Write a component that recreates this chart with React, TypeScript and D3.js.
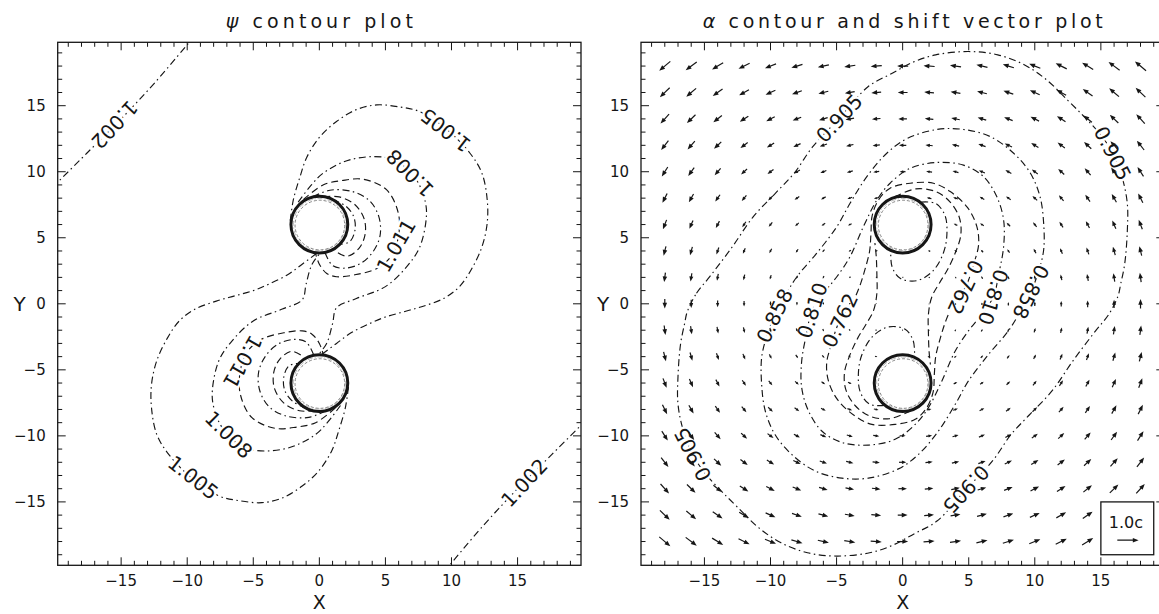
import React from 'react';
import * as d3 from 'd3';

type Pt = [number, number];

// page and frame geometry (px)
const W = 1159;
const H = 614;
const FRAME_TOP = 42.3;
const FRAME_BOTTOM = 565.3;
const LEFT_RANGE: [number, number] = [57.7, 581];
const RIGHT_RANGE: [number, number] = [641, 1164.3];

// axes
const AXIS_DOMAIN: [number, number] = [-19.8, 19.8];
const majorTicks = [-15, -10, -5, 0, 5, 10, 15];
const tickLabels = ['\u221215', '\u221210', '\u22125', '0', '5', '10', '15'];
const minorTicks = d3.range(-19, 20);

// black holes (excised spheres)
const holeCenters: Pt[] = [[0, 6], [0, -6]];
const holeRadius = 2.15;

// psi contours: each arc runs from hole to hole, the other half is its point reflection
const psi1002: Pt[] = [[-20.2, 8.8], [-17.6, 11.4], [-15.0, 14.0], [-12.4, 16.8], [-9.6, 20.1]];
const psi1005: Pt[] = [[-2.2, 6.3], [-1.97, 7.86], [-1.46, 9.63], [-0.95, 11.1], [0.05, 12.66], [1.3, 13.8], [2.8, 14.7], [4.35, 15.06], [6.1, 14.9], [7.6, 14.55], [9.65, 13.2], [11.4, 11.4], [12.3, 9.9], [12.7, 7.9], [12.7, 6.1], [12.3, 4.3], [11.5, 2.6], [10.6, 1.3], [9.4, 0.4], [7.8, -0.2], [6.4, -0.6], [5.0, -1.0], [3.8, -1.5], [2.4, -2.2], [1.3, -3.0], [0.3, -3.75], [-0.4, -4.3]];
const psi1008: Pt[] = [[-1.6, 7.7], [-0.6, 9.0], [0.3, 9.9], [2.3, 10.9], [4.85, 11.1], [6.3, 10.5], [7.4, 9.3], [8.0, 7.8], [8.1, 6.6], [7.6, 4.3], [6.6, 2.8], [5.0, 1.3], [2.8, 0.4], [1.3, -0.3], [1.0, -1.5], [0.55, -3.0], [-0.2, -4.0]];
const psi1011: Pt[] = [[-1.2, 7.9], [0.28, 9.0], [1.7, 9.33], [3.33, 9.43], [5.1, 8.62], [5.98, 6.85], [6.0, 5.2], [5.5, 3.7], [4.4, 2.7], [2.6, 2.18], [1.3, 2.05], [0.56, 2.3], [0.0, 3.0], [-0.3, 3.85]];
const psi1014: Pt[] = [[-0.5, 8.1], [0.8, 8.6], [2.5, 8.5], [3.8, 7.8], [4.5, 6.6], [4.6, 5.2], [4.1, 4.0], [3.2, 3.1], [2.0, 2.7], [1.0, 2.9], [0.4, 3.95]];
const psi1017: Pt[] = [[0.3, 8.1], [1.5, 8.1], [2.7, 7.5], [3.4, 6.4], [3.45, 5.2], [3.0, 4.2], [2.1, 3.6], [1.2, 4.0]];
const psi1020: Pt[] = [[1.0, 7.9], [2.0, 7.4], [2.6, 6.6], [2.7, 5.6], [2.3, 4.7], [1.5, 4.5]];

// alpha contours: closed S-shaped curves given by their upper half (from P to -P)
const alpha905: Pt[] = [[-16.3, -0.6], [-15.6, 0.8], [-14.6, 2.05], [-12.9, 4.3], [-11.3, 6.6], [-9.6, 8.4], [-8.2, 9.9], [-6.8, 11.9], [-4.8, 14.05], [-2.6, 16.45], [-0.9, 17.4], [0.8, 18.3], [2.5, 18.85], [5.0, 19.1], [7.2, 18.85], [9.2, 18.1], [10.9, 16.95], [12.5, 15.4], [13.7, 14.2], [14.9, 12.9], [15.9, 11.4], [16.6, 9.6], [17.0, 7.6], [17.0, 5.5], [16.8, 3.0], [16.5, 1.5], [16.3, 0.6]];
const alpha858: Pt[] = [[-9.7, -0.9], [-8.9, 0.6], [-8.0, 2.05], [-6.5, 3.83], [-4.98, 5.84], [-3.98, 7.61], [-2.71, 9.63], [-1.2, 11.4], [0.32, 12.5], [2.59, 13.2], [4.6, 13.2], [6.63, 12.66], [8.4, 11.4], [9.66, 9.9], [10.4, 8.1], [10.67, 6.1], [10.67, 4.07], [10.3, 2.5], [9.7, 0.9]];
const alpha810: Pt[] = [[-6.85, -0.5], [-5.9, 0.9], [-4.98, 2.05], [-3.98, 3.57], [-2.97, 5.84], [-1.95, 7.86], [-0.95, 9.13], [0.57, 10.26], [2.59, 10.7], [4.6, 10.5], [6.12, 9.63], [7.13, 8.1], [7.64, 6.35], [7.64, 4.33], [7.3, 2.4], [6.85, 0.5]];
const alpha762: Pt[] = [[-4.75, -1.25], [-3.9, -0.1], [-3.3, 1.2], [-2.85, 2.6], [-2.5, 4.0], [-2.4, 5.3], [-2.3, 6.7], [-1.8, 7.9], [-0.95, 8.75], [0.57, 9.13], [2.33, 9.13], [3.6, 8.5], [4.9, 7.3], [5.6, 5.9], [5.75, 4.5], [5.4, 3.1], [4.75, 1.25]];
// inner alpha arcs, hole to hole
const alpha715: Pt[] = [[-0.6, 8.1], [1.0, 8.7], [2.5, 8.5], [3.6, 7.7], [4.3, 6.5], [4.4, 5.2], [4.0, 3.9], [3.4, 2.6], [2.8, 1.6], [2.2, 0.5], [1.95, -0.8], [1.95, -2.2], [2.0, -3.6], [2.1, -4.6]];
const alpha667: Pt[] = [[1.4, 7.7], [2.5, 7.6], [3.2, 6.7], [3.35, 5.3], [3.1, 3.9], [2.3, 2.5], [1.07, 1.75], [-0.19, 1.93], [-0.8, 2.8], [-0.9, 3.9]];

// shift vector field on a 2-unit grid (units of c)
const gridX = [-18, -16, -14, -12, -10, -8, -6, -4, -2, 0, 2, 4, 6, 8, 10, 12, 14, 16, 18];
const gridY = [18, 16, 14, 12, 10, 8, 6, 4, 2, 0, -2, -4, -6, -8, -10, -12, -14, -16, -18];
const betaXByRow = [-0.52, -0.46, -0.4, -0.34, -0.28, -0.22, -0.17, -0.11, -0.06, 0, 0.06, 0.11, 0.17, 0.22, 0.28, 0.34, 0.4, 0.46, 0.52];
const betaYByCol = [-0.44, -0.39, -0.32, -0.26, -0.21, -0.16, -0.12, -0.08, -0.04, 0, 0.04, 0.08, 0.12, 0.16, 0.21, 0.26, 0.32, 0.39, 0.44];
const PX_PER_C = 21.3;

const DASH_DOT = '7 3.5 1.5 3.5';
const DASHED = '7 4';
const INK = '#161616';
const FONT = "'DejaVu Sans', 'Liberation Sans', sans-serif";

interface Curve { pts: Pt[]; closed: boolean; dash: string; }
interface Label { text: string; at: Pt; rot: number; }

const reflect = (pts: Pt[]): Pt[] => pts.map(([a, b]) => [-a, -b] as Pt);
const arcPair = (pts: Pt[], dash: string): Curve[] => [
  { pts, closed: false, dash },
  { pts: reflect(pts), closed: false, dash },
];
const sCurve = (half: Pt[], dash: string): Curve => ({
  pts: half.concat(reflect(half).slice(1, -1)),
  closed: true,
  dash,
});
const labelPair = (text: string, at: Pt, rot: number): Label[] => [
  { text, at, rot },
  { text, at: [-at[0], -at[1]], rot: rot + 180 },
];

const psiCurves: Curve[] = [
  ...arcPair(psi1002, DASH_DOT),
  ...arcPair(psi1005, DASH_DOT),
  ...arcPair(psi1008, DASH_DOT),
  ...arcPair(psi1011, DASHED),
  ...arcPair(psi1014, DASH_DOT),
  ...arcPair(psi1017, DASHED),
  ...arcPair(psi1020, DASH_DOT),
];
const psiLabels: Label[] = [
  ...labelPair('1.002', [-15.5, 13.55], 133),
  ...labelPair('1.005', [9.55, 13.15], -142),
  ...labelPair('1.008', [6.85, 9.9], -135),
  ...labelPair('1.011', [5.8, 4.4], -60),
];

const alphaCurves: Curve[] = [
  sCurve(alpha905, DASH_DOT),
  sCurve(alpha858, DASH_DOT),
  sCurve(alpha810, DASH_DOT),
  sCurve(alpha762, DASHED),
  ...arcPair(alpha715, DASHED),
  ...arcPair(alpha667, DASH_DOT),
];
const alphaLabels: Label[] = [
  ...labelPair('0.905', [-4.8, 14.05], -47),
  ...labelPair('0.905', [15.9, 11.4], 63),
  ...labelPair('0.858', [9.7, 0.9], 116),
  ...labelPair('0.810', [6.85, 0.5], 108),
  ...labelPair('0.762', [4.75, 1.25], 115),
];

function arrow(cx: number, cy: number, dx: number, dy: number, key: string) {
  const len = Math.hypot(dx, dy);
  if (len < 0.6) return null;
  const ux = dx / len;
  const uy = dy / len;
  const tx = cx + dx / 2;
  const ty = cy + dy / 2;
  const hl = Math.min(5.8, len * 0.6);
  const hw = hl * 0.4;
  const bx = tx - ux * hl;
  const by = ty - uy * hl;
  return (
    <g key={key}>
      <line x1={cx - dx / 2} y1={cy - dy / 2} x2={bx + ux * hl * 0.3} y2={by + uy * hl * 0.3} stroke={INK} strokeWidth={1.2} />
      <polygon points={`${tx},${ty} ${bx - uy * hw},${by + ux * hw} ${bx + uy * hw},${by - ux * hw}`} fill={INK} />
    </g>
  );
}

interface PanelProps {
  id: string;
  range: [number, number];
  title: React.ReactNode;
  titleWidth: number;
  curves: Curve[];
  labels: Label[];
  vectors: boolean;
}

function Panel({ id, range, title, titleWidth, curves, labels, vectors }: PanelProps) {
  const x = d3.scaleLinear().domain(AXIS_DOMAIN).range(range);
  const y = d3.scaleLinear().domain(AXIS_DOMAIN).range([FRAME_BOTTOM, FRAME_TOP]);
  const openLine = d3.line<Pt>().x(d => x(d[0])).y(d => y(d[1])).curve(d3.curveCatmullRom.alpha(0.5));
  const closedLine = d3.line<Pt>().x(d => x(d[0])).y(d => y(d[1])).curve(d3.curveCatmullRomClosed.alpha(0.5));
  const [x0, x1] = range;
  const rPx = x(holeRadius) - x(0);

  const arrows: React.ReactNode[] = [];
  if (vectors) {
    gridY.forEach((gy, i) => {
      gridX.forEach((gx, j) => {
        if (holeCenters.some(([hx, hy]) => Math.hypot(gx - hx, gy - hy) < 2.05)) return;
        const bx = betaXByRow[i];
        const by = betaYByCol[j];
        arrows.push(arrow(x(gx), y(gy), bx * PX_PER_C, -by * PX_PER_C, `a${i}-${j}`));
      });
    });
  }

  return (
    <g>
      <defs>
        <clipPath id={`clip-${id}`}>
          <rect x={x0} y={FRAME_TOP} width={x1 - x0} height={FRAME_BOTTOM - FRAME_TOP} />
        </clipPath>
      </defs>

      <text x={x(0)} y={28} textAnchor="middle" fontSize={19} fill={INK} textLength={titleWidth} lengthAdjust="spacing">
        {title}
      </text>

      <g clipPath={`url(#clip-${id})`}>
        {curves.map((c, i) => (
          <path key={i} d={(c.closed ? closedLine : openLine)(c.pts) || ''} fill="none" stroke={INK} strokeWidth={1.15} strokeDasharray={c.dash} />
        ))}
        {labels.map((l, i) => (
          <text
            key={`l${i}`}
            transform={`translate(${x(l.at[0])},${y(l.at[1])}) rotate(${l.rot})`}
            textAnchor="middle"
            dy="0.36em"
            fontSize={20}
            fill={INK}
            stroke="#fff"
            strokeWidth={5}
            paintOrder="stroke"
          >
            {l.text}
          </text>
        ))}
        {arrows}
        {holeCenters.map(([hx, hy], i) => (
          <g key={`h${i}`}>
            <circle cx={x(hx)} cy={y(hy)} r={rPx} fill="#fff" stroke={INK} strokeWidth={3} />
            <circle cx={x(hx) + 0.5} cy={y(hy) + 0.5} r={rPx - 3.6} fill="none" stroke="#777" strokeWidth={0.9} strokeDasharray="3 2" />
            <circle cx={x(hx)} cy={y(hy)} r={rPx - 2.4} fill="none" stroke="#999" strokeWidth={0.7} strokeDasharray="5 2 1 2" />
          </g>
        ))}
        {vectors && (
          <g>
            <rect x={x(15)} y={y(-15)} width={x(19) - x(15)} height={y(-19) - y(-15)} fill="#fff" stroke={INK} strokeWidth={1.3} />
            <text x={x(16.9)} y={y(-17.0)} textAnchor="middle" fontSize={16} fill={INK}>1.0c</text>
            {arrow(x(17.05), y(-17.9), 1.0 * PX_PER_C, 0, 'legend')}
          </g>
        )}
      </g>

      <rect x={x0} y={FRAME_TOP} width={x1 - x0} height={FRAME_BOTTOM - FRAME_TOP} fill="none" stroke={INK} strokeWidth={1.3} />
      <g stroke={INK} strokeWidth={1}>
        {minorTicks.map(t => {
          const len = majorTicks.includes(t) ? 8 : 4.5;
          return (
            <g key={`t${t}`}>
              <line x1={x(t)} x2={x(t)} y1={FRAME_BOTTOM} y2={FRAME_BOTTOM - len} />
              <line x1={x(t)} x2={x(t)} y1={FRAME_TOP} y2={FRAME_TOP + len} />
              <line x1={x0} x2={x0 + len} y1={y(t)} y2={y(t)} />
              <line x1={x1} x2={x1 - len} y1={y(t)} y2={y(t)} />
            </g>
          );
        })}
      </g>
      {majorTicks.map((t, i) => (
        <g key={`tl${t}`} fontSize={15} fill={INK}>
          <text x={x(t)} y={586} textAnchor="middle">{tickLabels[i]}</text>
          <text x={x0 - 12} y={y(t) + 5.4} textAnchor="end">{tickLabels[i]}</text>
        </g>
      ))}
      <text x={x(0)} y={609} textAnchor="middle" fontSize={19} fill={INK}>X</text>
      <text x={x0 - 38} y={311} textAnchor="middle" fontSize={20} fill={INK}>Y</text>
    </g>
  );
}

export default function App() {
  return (
    <svg
      width={W}
      height={H}
      viewBox={`0 0 ${W} ${H}`}
      fontFamily={FONT}
      style={{ position: 'absolute', left: 0, top: 0, background: '#fff' }}
    >
      <rect width={W} height={H} fill="#fff" />
      <Panel
        id="psi"
        range={LEFT_RANGE}
        title={<><tspan fontStyle="italic">{'\u03c8'}</tspan> contour plot</>}
        titleWidth={187}
        curves={psiCurves}
        labels={psiLabels}
        vectors={false}
      />
      <Panel
        id="alpha"
        range={RIGHT_RANGE}
        title={<><tspan fontStyle="italic">{'\u03b1'}</tspan> contour and shift vector plot</>}
        titleWidth={400}
        curves={alphaCurves}
        labels={alphaLabels}
        vectors={true}
      />
    </svg>
  );
}
